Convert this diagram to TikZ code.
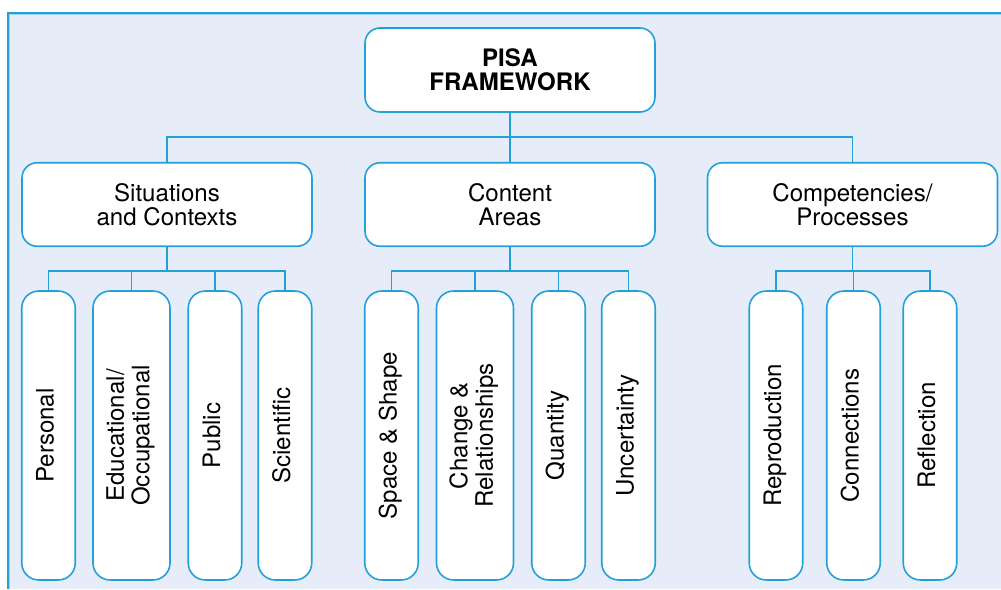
\documentclass[tikz,border=0pt]{standalone}
\usepackage{fontspec}
\setmainfont{TeX Gyre Heros}
\usepackage{graphicx}
\definecolor{pisablue}{HTML}{22A0DA}
\definecolor{pisaback}{HTML}{E6EDF8}
\newcommand{\vlabel}[1]{\rotatebox{90}{\begin{tabular}{@{}c@{}}#1\end{tabular}}}
\tikzset{
  mainbox/.style={draw=pisablue, line width=0.9pt, fill=white, rounded corners=0.3cm,
    minimum width=5.8cm, minimum height=1.67cm, align=center, inner sep=0pt,
    font=\fontsize{13.7}{13.9}\selectfont},
  narrowleaf/.style={draw=pisablue, line width=0.9pt, fill=white, rounded corners=0.34cm,
    minimum width=1.07cm, minimum height=5.78cm, inner sep=0pt,
    font=\fontsize{13.7}{14.6}\selectfont},
  wideleaf/.style={narrowleaf, minimum width=1.54cm},
  link/.style={draw=pisablue, line width=0.9pt}
}
\begin{document}
\begin{tikzpicture}[x=0.02cm,y=-0.02cm]
\useasboundingbox (0,0) rectangle (1001,589);
% Background panel
\fill[pisaback] (8,13) rectangle (1001,589);
\draw[pisablue!45, line width=0.6pt] (9.6,589) -- (9.6,14.6) -- (1001,14.6);
\draw[pisablue, line width=0.9pt] (8,589) -- (8,13) -- (1001,13);
% Top box
\node[mainbox, minimum height=1.68cm, font=\fontsize{13.7}{13.9}\selectfont\bfseries]
  (pisa) at (510,70) {PISA\\FRAMEWORK};
% Second row
\node[mainbox] (sit) at (167,204.5) {Situations\\and Contexts};
\node[mainbox] (cont) at (510,204.5) {Content\\Areas};
\node[mainbox] (comp) at (852.5,204.5) {Competencies/\\Processes};
% Leaves under Situations and Contexts
\node[narrowleaf] (pers) at (48.5,435.5) {\vlabel{Personal}};
\node[wideleaf] (educ) at (131.5,435.5) {\vlabel{Educational/\\Occupational}};
\node[narrowleaf] (publ) at (215,435.5) {\vlabel{Public}};
\node[narrowleaf] (scie) at (285,435.5) {\vlabel{Scientific}};
% Leaves under Content Areas
\node[narrowleaf] (spac) at (391.5,435.5) {\vlabel{Space \& Shape}};
\node[wideleaf] (chan) at (475,435.5) {\vlabel{Change \&\\Relationships}};
\node[narrowleaf] (quan) at (558.5,435.5) {\vlabel{Quantity}};
\node[narrowleaf] (unce) at (628.5,435.5) {\vlabel{Uncertainty}};
% Leaves under Competencies/Processes
\node[narrowleaf] (repr) at (776,435.5) {\vlabel{Reproduction}};
\node[narrowleaf] (conn) at (853.5,435.5) {\vlabel{Connections}};
\node[narrowleaf] (refl) at (930,435.5) {\vlabel{Reflection}};
% Connectors
\coordinate (topbus) at (510,137);
\coordinate (sitbus) at (167,271);
\coordinate (contbus) at (510,271);
\coordinate (compbus) at (852.5,271);
\draw[link] (pisa.south) -- (topbus);
\draw[link] (topbus) -| (sit.north);
\draw[link] (topbus) -- (cont.north);
\draw[link] (topbus) -| (comp.north);
\draw[link] (sit.south) -- (sitbus);
\draw[link] (cont.south) -- (contbus);
\draw[link] (comp.south) -- (compbus);
\foreach \leaf in {pers,educ,publ,scie}
  \draw[link] (sitbus) -| (\leaf.north);
\foreach \leaf in {spac,chan,quan,unce}
  \draw[link] (contbus) -| (\leaf.north);
\foreach \leaf in {repr,conn,refl}
  \draw[link] (compbus) -| (\leaf.north);
\end{tikzpicture}
\end{document}
